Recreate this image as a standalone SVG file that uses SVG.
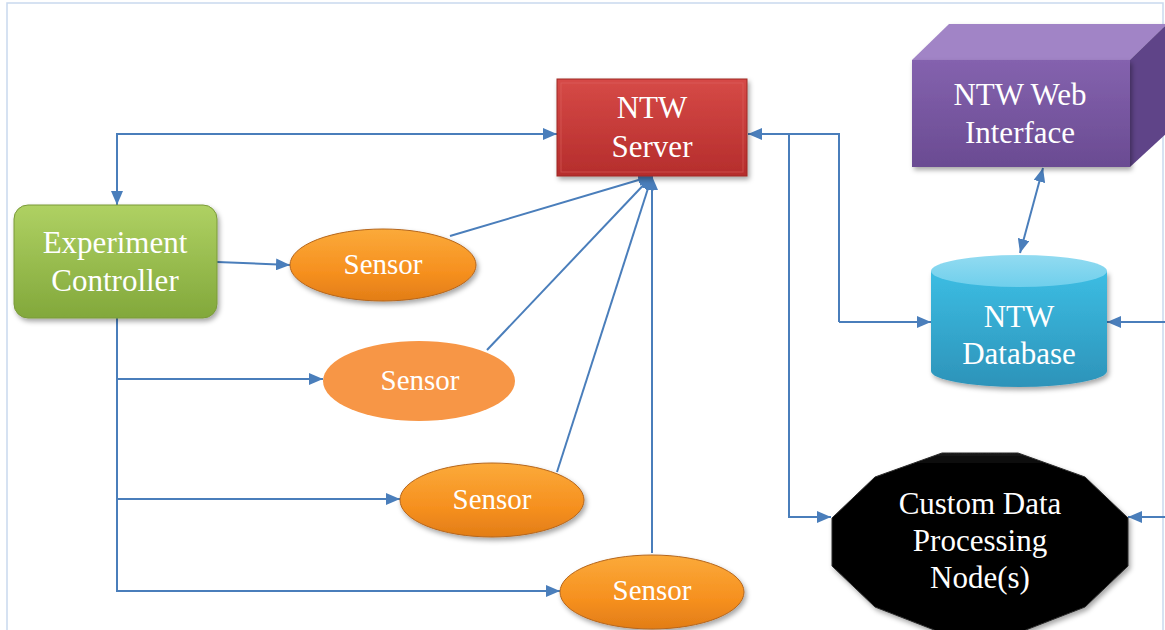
<svg xmlns="http://www.w3.org/2000/svg" width="1165" height="630" viewBox="0 0 1165 630">
<defs>
<style>
.lbl{font-family:"Liberation Serif","Times New Roman",serif;font-size:31px;fill:#ffffff;text-anchor:middle}
.sl{font-family:"Liberation Serif","Times New Roman",serif;font-size:29px;fill:#ffffff;text-anchor:middle}
.c{fill:none;stroke:#4a7ebb;stroke-width:2}
</style>
<marker id="ah" viewBox="0 0 14 12" refX="14" refY="6" markerWidth="14" markerHeight="12" markerUnits="userSpaceOnUse" orient="auto-start-reverse">
<path d="M0,0 L14,6 L0,12 Z" fill="#4a7ebb"/>
</marker>
<filter id="sh" x="-10%" y="-10%" width="125%" height="130%">
<feDropShadow dx="2" dy="3" stdDeviation="2.5" flood-color="#000" flood-opacity="0.35"/>
</filter>
<linearGradient id="gRed" x1="0" y1="0" x2="0" y2="1">
<stop offset="0" stop-color="#d64a47"/>
<stop offset="1" stop-color="#b52d2c"/>
</linearGradient>
<linearGradient id="gGreen" x1="0" y1="0" x2="0" y2="1">
<stop offset="0" stop-color="#afd163"/>
<stop offset="1" stop-color="#82a83b"/>
</linearGradient>
<linearGradient id="gOr" x1="0" y1="0" x2="0" y2="1">
<stop offset="0" stop-color="#fbaa3a"/>
<stop offset="0.6" stop-color="#f6901f"/>
<stop offset="1" stop-color="#e27d17"/>
</linearGradient>
<linearGradient id="gCyl" x1="0" y1="0" x2="0" y2="1">
<stop offset="0" stop-color="#3cbde3"/>
<stop offset="1" stop-color="#2d93b9"/>
</linearGradient>
<linearGradient id="gCylTop" x1="0" y1="0" x2="0" y2="1">
<stop offset="0" stop-color="#92dbf1"/>
<stop offset="1" stop-color="#6fcfec"/>
</linearGradient>
<linearGradient id="gPur" x1="0" y1="0" x2="0" y2="1">
<stop offset="0" stop-color="#8462ae"/>
<stop offset="1" stop-color="#6a4b92"/>
</linearGradient>
<linearGradient id="gBlk" x1="0" y1="0" x2="0" y2="1">
<stop offset="0" stop-color="#161616"/>
<stop offset="0.08" stop-color="#000000"/>
<stop offset="1" stop-color="#000000"/>
</linearGradient>
</defs>
<rect x="0" y="0" width="1165" height="630" fill="#ffffff"/>
<rect x="7" y="3" width="1156" height="640" fill="none" stroke="#c9d9ee" stroke-width="1.5"/>

<g id="connectors">
<path class="c" d="M557,134 H117 V205" marker-start="url(#ah)" marker-end="url(#ah)"/>
<path class="c" d="M217,262 L290,265" marker-end="url(#ah)"/>
<path class="c" d="M117,318 V591 H560" marker-end="url(#ah)"/>
<path class="c" d="M117,379 H323" marker-end="url(#ah)"/>
<path class="c" d="M117,499 H400" marker-end="url(#ah)"/>
<path class="c" d="M450,236 L652,176" marker-end="url(#ah)"/>
<path class="c" d="M487,350 L652,176" marker-end="url(#ah)"/>
<path class="c" d="M557,472 L652,176" marker-end="url(#ah)"/>
<path class="c" d="M652,553 L652,176" marker-end="url(#ah)"/>
<path class="c" d="M839,322 V134 H748" marker-end="url(#ah)"/>
<path class="c" d="M839,322 H931" marker-end="url(#ah)"/>
<path class="c" d="M789,134 V517 H831" marker-end="url(#ah)"/>
<path class="c" d="M1043,168 L1020,253" marker-start="url(#ah)" marker-end="url(#ah)"/>
<path class="c" d="M1165,322 H1107" marker-end="url(#ah)"/>
<path class="c" d="M1165,517 H1128" marker-end="url(#ah)"/>
</g>

<g id="ntw-server">
<rect x="557" y="79" width="190" height="97" fill="url(#gRed)" stroke="#9e2826" stroke-width="1" filter="url(#sh)"/>
<rect x="561" y="83" width="182" height="89" fill="none" stroke="#e06a66" stroke-width="1" opacity="0.5"/>
<text class="lbl" x="652" y="118">NTW</text>
<text class="lbl" x="652" y="157">Server</text>
</g>

<g id="ntw-web-interface">
<polygon points="912,60 949,24 1167,24 1130,60" fill="#a184c6" filter="url(#sh)"/>
<polygon points="1130,60 1167,24 1167,133 1130,167" fill="#5f4488"/>
<rect x="912" y="60" width="218" height="107" fill="url(#gPur)" filter="url(#sh)"/>
<text class="lbl" x="1020" y="105">NTW Web</text>
<text class="lbl" x="1020" y="143">Interface</text>
</g>

<g id="ntw-database">
<path d="M931,271 V371 A88,16 0 0 0 1107,371 V271 Z" fill="url(#gCyl)" filter="url(#sh)"/>
<ellipse cx="1019" cy="271" rx="88" ry="16" fill="url(#gCylTop)"/>
<text class="lbl" x="1019" y="327">NTW</text>
<text class="lbl" x="1019" y="364">Database</text>
</g>

<g id="custom-node">
<polygon points="1018,453 942,453 875,477 832,518 832,566 875,607 942,633 1018,633 1085,607 1128,566 1128,518 1085,477" fill="url(#gBlk)" stroke="#2a2a2a" stroke-width="1" filter="url(#sh)"/>
<text class="lbl" x="980" y="514">Custom Data</text>
<text class="lbl" x="980" y="551">Processing</text>
<text class="lbl" x="980" y="588">Node(s)</text>
</g>

<g id="experiment-controller">
<rect x="14" y="205" width="203" height="113" rx="14" ry="14" fill="url(#gGreen)" stroke="#7a9a3a" stroke-width="1" filter="url(#sh)"/>
<text class="lbl" x="115" y="253">Experiment</text>
<text class="lbl" x="115" y="291">Controller</text>
</g>

<g id="sensor-1">
<ellipse cx="383" cy="265" rx="93" ry="36" fill="url(#gOr)" stroke="#b5661c" stroke-width="1" filter="url(#sh)"/>
<text class="sl" x="383" y="274">Sensor</text>
</g>

<g id="sensor-2">
<ellipse cx="419" cy="381" rx="96" ry="40" fill="#f79646"/>
<text class="sl" x="420" y="390">Sensor</text>
</g>

<g id="sensor-3">
<ellipse cx="492" cy="500" rx="92" ry="37" fill="url(#gOr)" stroke="#b5661c" stroke-width="1" filter="url(#sh)"/>
<text class="sl" x="492" y="509">Sensor</text>
</g>

<g id="sensor-4">
<ellipse cx="652" cy="592" rx="92" ry="37" fill="url(#gOr)" stroke="#b5661c" stroke-width="1" filter="url(#sh)"/>
<text class="sl" x="652" y="600">Sensor</text>
</g>
</svg>
